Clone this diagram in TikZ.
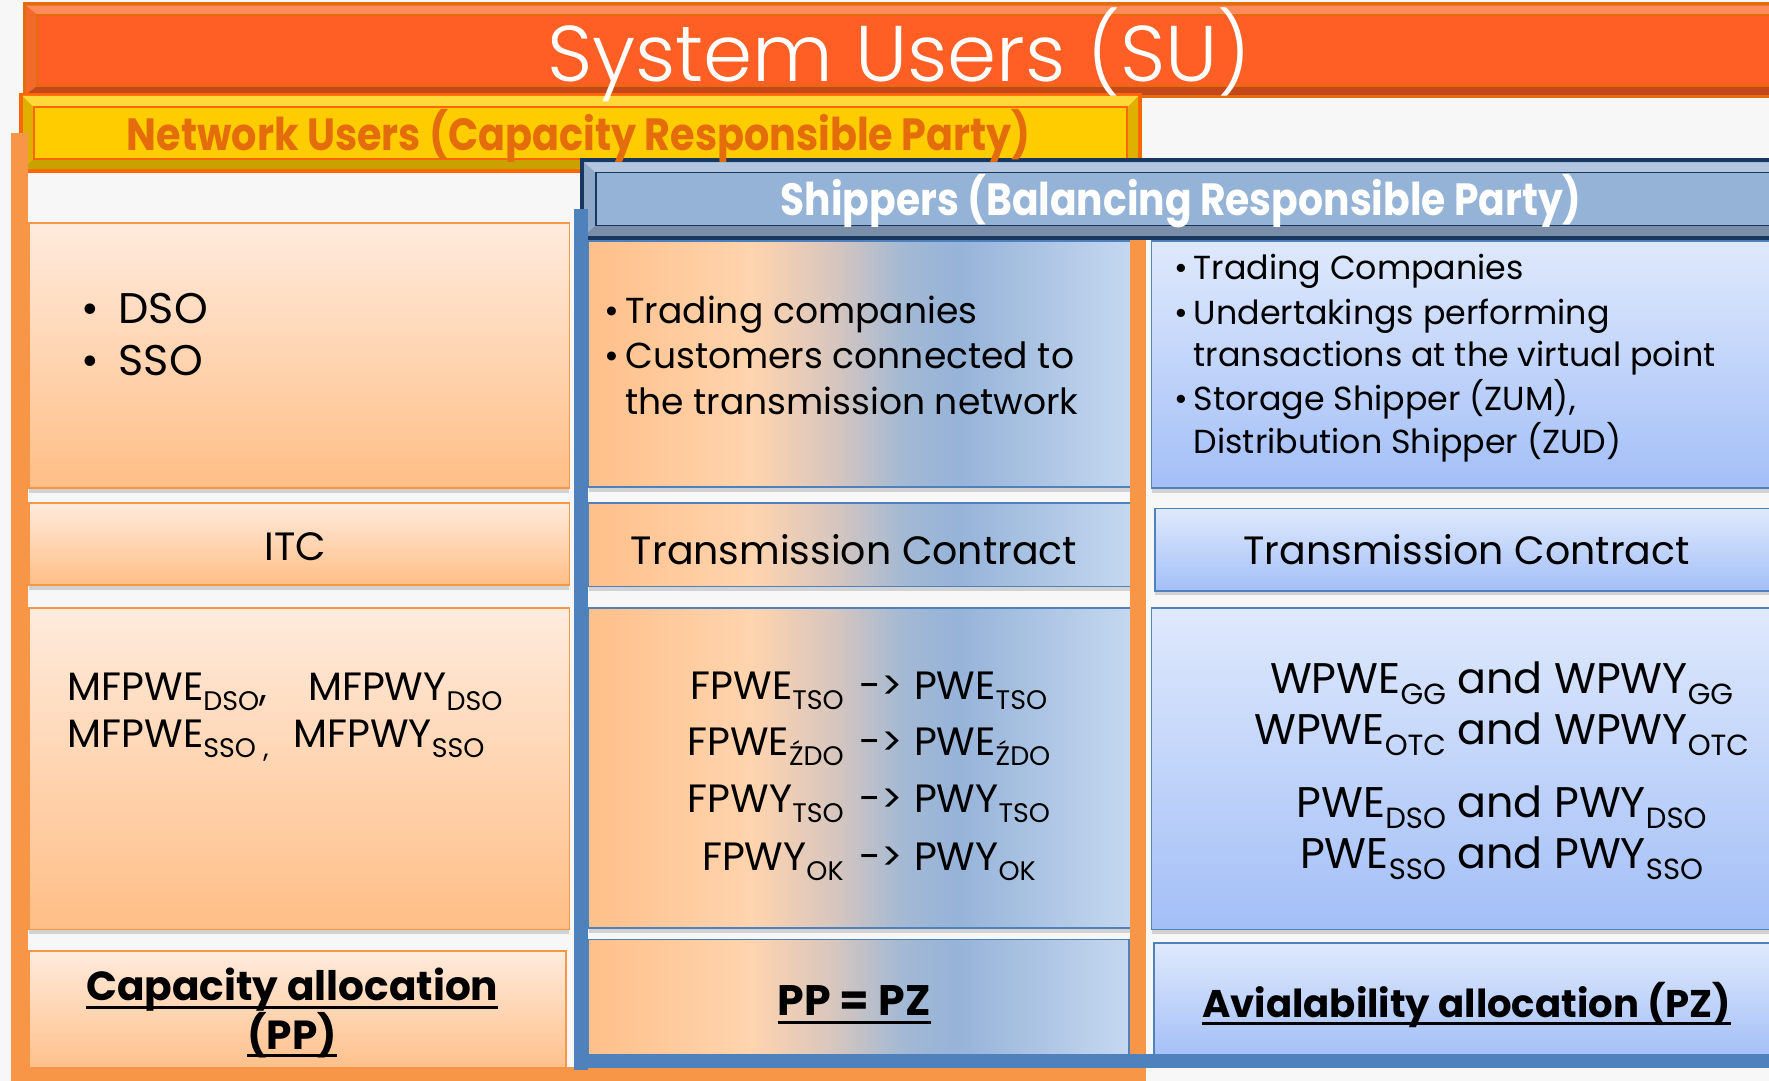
\documentclass[tikz,border=0pt]{standalone}
\usepackage{fontspec}
\setmainfont{Poppins}
\newfontfamily\lightfont{Poppins Light}
\usepackage{graphicx}
\usepackage{tikz}
\usetikzlibrary{shadows}

\definecolor{bggray}{HTML}{F7F7F7}
\definecolor{surim}{HTML}{E46C0A}
\definecolor{suside}{HTML}{F26A2A}
\definecolor{sulite}{HTML}{FF8A5C}
\definecolor{sudark}{HTML}{C4481C}
\definecolor{suface}{HTML}{FF5F24}
\definecolor{nurim}{HTML}{FF6600}
\definecolor{nuside}{HTML}{E0B000}
\definecolor{nulite}{HTML}{FFD83A}
\definecolor{nudark}{HTML}{C9A100}
\definecolor{nuface}{HTML}{FFCC00}
\definecolor{nutext}{HTML}{E46C0A}
\definecolor{shrim}{HTML}{17375E}
\definecolor{shside}{HTML}{8FA8C8}
\definecolor{shlite}{HTML}{B2C6E0}
\definecolor{shdark}{HTML}{7A8EAA}
\definecolor{shface}{HTML}{95B3D7}
\definecolor{orgbar}{HTML}{F79646}
\definecolor{bluebar}{HTML}{4F81BD}
\definecolor{pchtop}{HTML}{FFEBDD}
\definecolor{pchbot}{HTML}{FFBE86}
\definecolor{blutop}{HTML}{DFE9FC}
\definecolor{blubot}{HTML}{A3BFF7}
\definecolor{midA}{HTML}{FFC08A}
\definecolor{midB}{HTML}{FFD4AE}
\definecolor{midC}{HTML}{D8C6BE}
\definecolor{midD}{HTML}{A3B9D4}
\definecolor{midE}{HTML}{96B3D8}
\definecolor{midF}{HTML}{C5D8F0}

\pgfdeclarehorizontalshading{midfade}{100bp}{color(0bp)=(midA); color(25bp)=(midA);
  color(40bp)=(midB); color(47.5bp)=(midC); color(54bp)=(midD); color(59bp)=(midE);
  color(75bp)=(midF); color(100bp)=(midF)}

\newcommand{\titlefont}{\fontsize{70}{80}\selectfont\lightfont}
\newcommand{\bannerfont}{\fontsize{40}{44}\selectfont\bfseries}
\newcommand{\bodyfont}{\fontsize{32}{40}\selectfont}
\newcommand{\listfont}{\fontsize{29.5}{40}\selectfont}
\newcommand{\contractfont}{\fontsize{35}{40}\selectfont}
\newcommand{\bigfont}{\fontsize{38}{44}\selectfont}
\newcommand{\ratefont}{\fontsize{35}{40}\selectfont}
\newcommand{\wratefont}{\fontsize{38}{44}\selectfont}
\newcommand{\boldfont}{\fontsize{36}{44}\selectfont\bfseries}
\newcommand{\subtxt}[1]{\raisebox{-0.25em}{\scalebox{0.68}{#1}}}
\newcommand{\undl}[1]{{\setbox0\hbox{#1}\rlap{\rule[-0.2em]{\wd0}{0.075em}}\box0}}

\begin{document}
\begin{tikzpicture}
  [x=1pt,y=-1pt,
   every node/.style={inner sep=0pt,font=\bodyfont},
   boxshadow/.style={drop shadow={shadow xshift=0pt,shadow yshift=-4pt,opacity=0.25,fill=black!60}},
   lbox/.style={draw=orgbar,line width=1.5pt,top color=pchtop,bottom color=pchbot,
     anchor=north west,boxshadow},
   mbox/.style={draw=bluebar,line width=1.5pt,shade,shading=midfade,
     anchor=north west,boxshadow},
   rbox/.style={draw=bluebar,line width=1.5pt,top color=blutop,bottom color=blubot,
     anchor=north west,boxshadow}]
  \useasboundingbox (0,0) rectangle (1568,958);
  \clip (0,0) rectangle (1568,958);
  \fill[bggray] (0,0) rectangle (1568,958);

  \fill[surim] (20,2) rectangle (1590,87);
  \fill[suside] (23,5) rectangle (1587,84);
  \fill[sulite] (23,5) -- (1587,5) -- (1577,13) -- (33,13) -- cycle;
  \fill[sudark] (23,84) -- (1587,84) -- (1577,76) -- (33,76) -- cycle;
  \filldraw[fill=suface,draw=surim,line width=1.5pt] (33,13) rectangle (1577,76);

  \fill[nurim] (17,82) rectangle (1012,153);
  \fill[nuside] (20,85) rectangle (1009,150);
  \fill[nulite] (20,85) -- (1009,85) -- (999,95) -- (30,95) -- cycle;
  \fill[nudark] (20,150) -- (1009,150) -- (999,141) -- (30,141) -- cycle;
  \filldraw[fill=nuface,draw=nurim,line width=1.5pt] (30,95) rectangle (999,141);

  \fill[shrim] (514,140) rectangle (1590,213);
  \fill[shside] (518,144) rectangle (1586,209);
  \fill[shlite] (518,144) -- (1586,144) -- (1576,153) -- (528,153) -- cycle;
  \fill[shdark] (518,209) -- (1586,209) -- (1576,200) -- (528,200) -- cycle;
  \filldraw[fill=shface,draw=shrim,line width=1.5pt] (528,153) rectangle (1576,200);

  \node[lbox,minimum width=479pt,minimum height=235pt] (lusers) at (25,197) {};
  \node[lbox,minimum width=479pt,minimum height=73pt] (litc) at (25,445) {};
  \node[lbox,minimum width=479pt,minimum height=285pt] (lrates) at (25,538) {};
  \node[lbox,minimum width=476pt,minimum height=110pt] (lalloc) at (25,842) {};

  \node[mbox,minimum width=481pt,minimum height=218pt] (musers) at (521,213) {};
  \node[mbox,minimum width=481pt,minimum height=74pt] (mtc) at (521,445) {};
  \node[mbox,minimum width=481pt,minimum height=284pt] (mrates) at (521,538) {};
  \node[mbox,minimum width=479pt,minimum height=105pt] (malloc) at (521,832) {};

  \node[rbox,minimum width=560pt,minimum height=219pt] (rusers) at (1020,213) {};
  \node[rbox,minimum width=560pt,minimum height=73pt] (rtc) at (1023,450) {};
  \node[rbox,minimum width=560pt,minimum height=285pt] (rrates) at (1020,538) {};
  \node[rbox,minimum width=560pt,minimum height=102pt] (ralloc) at (1022,835) {};

  \fill[orgbar] (10,118) rectangle (25,958);
  \fill[orgbar] (10,946) rectangle (1016,958);
  \fill[orgbar] (1002,213) rectangle (1016,958);
  \fill[bluebar] (509,185) rectangle (521,948);
  \fill[bluebar] (509,934) rectangle (1590,947);

  \node[font=\titlefont,text=white,anchor=base] (su) at (797,72) {System Users (SU)};
  \node[font=\bannerfont,text=nutext,anchor=base] (nu) at (513,133)
    {\scalebox{0.88}[1]{Network Users (Capacity Responsible Party)}};
  \node[font=\bannerfont,text=white,anchor=base] (sh) at (1047,191)
    {\scalebox{0.87}[1]{Shippers (Balancing Responsible Party)}};

  \node[font=\bigfont,anchor=base west] (dsob) at (72,287) {\textbullet};
  \node[font=\bigfont,anchor=base west] (dso) at (105,287) {DSO};
  \node[font=\bigfont,anchor=base west] (ssob) at (72,333) {\textbullet};
  \node[font=\bigfont,anchor=base west] (sso) at (105,333) {SSO};
  \node[font=\contractfont,anchor=base] (itc) at (262,497) {ITC};
  \node[font=\ratefont,anchor=base west] (mfa) at (60,621) {MFPWE\subtxt{DSO},};
  \node[font=\ratefont,anchor=base west] (mfb) at (273,621) {MFPWY\subtxt{DSO}};
  \node[font=\ratefont,anchor=base west] (mfc) at (60,663) {MFPWE\subtxt{SSO ,}};
  \node[font=\ratefont,anchor=base west] (mfd) at (260,663) {MFPWY\subtxt{SSO}};
  \node[font=\boldfont,anchor=base] (capa) at (259,887) {\undl{Capacity allocation}};
  \node[font=\boldfont,anchor=base] (capb) at (259,930) {\undl{(PP)}};

  \node[anchor=base west] (tcb) at (536,287) {\textbullet};
  \node[anchor=base west] (tc) at (554,287) {Trading companies};
  \node[anchor=base west] (ccb) at (536,327) {\textbullet};
  \node[anchor=base west] (cc) at (554,327) {Customers connected to};
  \node[anchor=base west] (ccn) at (554,367) {the transmission network};
  \node[font=\contractfont,anchor=base] (mcon) at (757,500) {Transmission Contract};
  \foreach \n/\y/\lt/\rt in {a/620/{FPWE\subtxt{TSO}}/{PWE\subtxt{TSO}},
      b/670/{FPWE\subtxt{ŹDO}}/{PWE\subtxt{ŹDO}},
      c/720/{FPWY\subtxt{TSO}}/{PWY\subtxt{TSO}},
      d/772/{FPWY\subtxt{OK}}/{PWY\subtxt{OK}}}{
    \node[font=\ratefont,anchor=base east] (fl\n) at (748,\y) {\lt};
    \node[font=\ratefont,anchor=base] (fa\n) at (781,\y) {->};
    \node[font=\ratefont,anchor=base west] (fr\n) at (810,\y) {\rt};
  }
  \node[font=\boldfont,anchor=base,scale=1.05] (pppz) at (757,900) {\undl{PP = PZ}};

  \node[font=\listfont,anchor=base west] (rtb) at (1041,248) {\textbullet};
  \node[font=\listfont,anchor=base west] (rt) at (1058,248) {Trading Companies};
  \node[font=\listfont,anchor=base west] (rub) at (1041,288) {\textbullet};
  \node[font=\listfont,anchor=base west] (ru) at (1058,288) {Undertakings performing};
  \node[font=\listfont,anchor=base west] (ruv) at (1058,325) {transactions at the virtual point};
  \node[font=\listfont,anchor=base west] (rsb) at (1041,364) {\textbullet};
  \node[font=\listfont,anchor=base west] (rs) at (1058,364) {Storage Shipper (ZUM),};
  \node[font=\listfont,anchor=base west] (rsd) at (1058,402) {Distribution Shipper (ZUD)};
  \node[font=\contractfont,anchor=base] (rcon) at (1300,500) {Transmission Contract};
  \node[font=\wratefont,anchor=base] (wgg) at (1331,615) {WPWE\subtxt{GG} and WPWY\subtxt{GG}};
  \node[font=\wratefont,anchor=base] (wotc) at (1331,660) {WPWE\subtxt{OTC} and WPWY\subtxt{OTC}};
  \node[font=\wratefont,anchor=base] (pdso) at (1331,725) {PWE\subtxt{DSO} and PWY\subtxt{DSO}};
  \node[font=\wratefont,anchor=base] (psso) at (1331,770) {PWE\subtxt{SSO} and PWY\subtxt{SSO}};
  \node[font=\boldfont,anchor=base,scale=0.95] (avail) at (1300,902) {\undl{Avialability allocation (PZ)}};
\end{tikzpicture}
\end{document}
